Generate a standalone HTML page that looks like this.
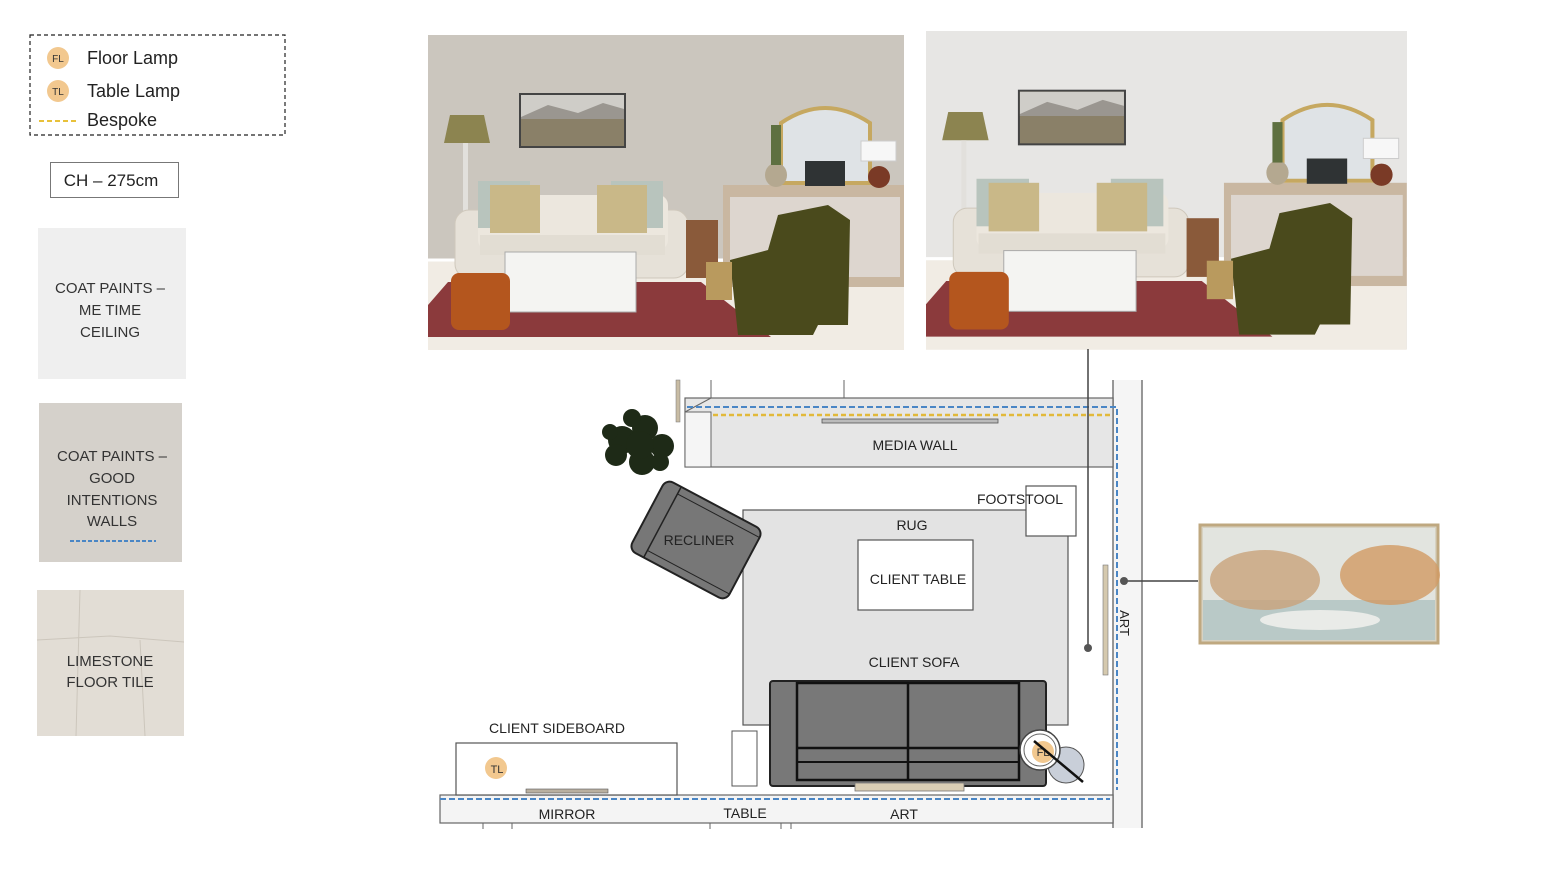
<!DOCTYPE html>
<html><head><meta charset="utf-8"><style>
html,body{margin:0;padding:0;background:#fff;}
svg{display:block;font-family:"Liberation Sans",sans-serif;}
</style></head><body>
<svg width="1556" height="890" viewBox="0 0 1556 890" xmlns="http://www.w3.org/2000/svg">
<defs>
<g id="room">
  <rect x="0" y="225" width="476" height="90" fill="#f1ece4"/>
  <line x1="0" y1="225" x2="476" y2="225" fill="none" stroke="#fff" stroke-width="3"/>
  <rect x="92" y="59" width="105" height="53" fill="#8a8068" stroke="#444" stroke-width="2"/>
  <rect x="93" y="60" width="103" height="22" fill="#cfcdc8"/>
  <path d="M93 82 L120 70 L150 78 L175 68 L196 74 L196 84 L93 84Z" fill="#9a9690"/>
  <polygon points="22,80 56,80 62,108 16,108" fill="#8c8450"/>
  <rect x="35" y="108" width="5" height="130" fill="#e2e0dc"/>
  <rect x="27" y="175" width="233" height="68" rx="14" fill="#e6e1d8" stroke="#cfc8bc"/>
  <rect x="50" y="160" width="190" height="55" rx="10" fill="#ece7de"/>
  <rect x="52" y="200" width="185" height="20" fill="#e2ddd3"/>
  <rect x="50" y="146" width="52" height="47" fill="#b8c4bd"/>
  <rect x="183" y="146" width="52" height="47" fill="#b8c4bd"/>
  <rect x="62" y="150" width="50" height="48" fill="#c9b888"/>
  <rect x="169" y="150" width="50" height="48" fill="#c9b888"/>
  <rect x="258" y="185" width="32" height="58" fill="#8a5a3a"/>
  <polygon points="20,247 273,247 343,302 0,302 0,270" fill="#8b3a3c"/>
  <rect x="77" y="217" width="131" height="60" fill="#f4f4f2" stroke="#aaa"/>
  <rect x="23" y="238" width="59" height="57" rx="8" fill="#b4561e"/>
  <rect x="295" y="150" width="181" height="102" fill="#c9b7a1"/>
  <rect x="302" y="162" width="170" height="80" fill="#ddd6cf"/>
  <path d="M353 148 L353 88 Q397 58 442 88 L442 148Z" fill="#dfe3e6" stroke="#c6a860" stroke-width="4"/>
  <rect x="377" y="126" width="40" height="25" fill="#2f3334"/>
  <ellipse cx="348" cy="140" rx="11" ry="12" fill="#b4a890"/>
  <rect x="343" y="90" width="10" height="40" fill="#5e7040"/>
  <rect x="433" y="106" width="35" height="20" fill="#f7f7f7" stroke="#ccc"/>
  <circle cx="451" cy="142" r="11" fill="#7a3a26"/>
  <path d="M302 225 L340 215 L350 180 L400 170 L422 185 L420 290 L390 290 L385 300 L310 300Z" fill="#4a4a1c"/>
  <rect x="278" y="227" width="26" height="38" fill="#b99a5e"/>
</g>
</defs>

<rect x="30" y="35" width="255" height="100" fill="none" stroke="#222" stroke-width="1.2" stroke-dasharray="4,3"/>
<circle cx="58" cy="58" r="11" fill="#f2c88f"/><text x="58" y="62" font-size="10" text-anchor="middle" fill="#333">FL</text>
<circle cx="58" cy="91" r="11" fill="#f2c88f"/><text x="58" y="95" font-size="10" text-anchor="middle" fill="#333">TL</text>
<line x1="39" y1="121" x2="77" y2="121" stroke="#e8c13a" stroke-width="2" stroke-dasharray="5,3"/>
<text x="87" y="64" font-size="18" fill="#222">Floor Lamp</text>
<text x="87" y="97" font-size="18" fill="#222">Table Lamp</text>
<text x="87" y="126" font-size="18" fill="#222">Bespoke</text>
<rect x="50.5" y="162.5" width="128" height="35" fill="#fff" stroke="#777"/>
<text x="111" y="186" font-size="17" text-anchor="middle" fill="#222">CH – 275cm</text>

<rect x="38" y="228" width="148" height="151" fill="#efefef"/>
<text font-size="15" fill="#333" text-anchor="middle"><tspan x="110" y="293">COAT PAINTS –</tspan><tspan x="110" y="315">ME TIME</tspan><tspan x="110" y="337">CEILING</tspan></text>
<rect x="39" y="403" width="143" height="159" fill="#d5d1cb"/>
<text font-size="15" fill="#333" text-anchor="middle"><tspan x="112" y="461">COAT PAINTS –</tspan><tspan x="112" y="483">GOOD</tspan><tspan x="112" y="505">INTENTIONS</tspan><tspan x="112" y="526">WALLS</tspan></text>
<line x1="70" y1="541" x2="156" y2="541" stroke="#4a86c5" stroke-width="2" stroke-dasharray="4,2"/>
<rect x="37" y="590" width="147" height="146" fill="#e2ddd5"/>
<path d="M37 640 L110 636 L184 642 M80 590 L76 736 M140 640 L145 736" stroke="#ccc6bc" fill="none"/>
<text font-size="15" fill="#333" text-anchor="middle"><tspan x="110" y="666">LIMESTONE</tspan><tspan x="110" y="687">FLOOR TILE</tspan></text>

<rect x="428" y="35" width="476" height="314" fill="#cbc6be"/>
<use href="#room" transform="translate(428,35)"/>
<rect x="926" y="31" width="481" height="318" fill="#e7e6e4"/>
<use href="#room" transform="translate(926,31) scale(1.01,1.012)"/>

<rect x="1113" y="380" width="29" height="448" fill="#f5f5f5"/>
<line x1="1113" y1="380" x2="1113" y2="828" stroke="#777" stroke-width="1.5"/>
<line x1="1142" y1="380" x2="1142" y2="828" stroke="#777" stroke-width="1.5"/>
<rect x="440" y="795" width="673" height="28" fill="#f4f4f4" stroke="#666" stroke-width="1.2"/>
<path d="M483 823 v6 M512 823 v6 M710 823 v6 M781 823 v6 M791 823 v6" stroke="#666"/>
<rect x="685" y="398" width="428" height="69" fill="#e6e6e6" stroke="#666" stroke-width="1.2"/>
<rect x="685" y="412" width="26" height="55" fill="#f5f5f5" stroke="#666"/>
<path d="M685 412 L711 398" stroke="#666"/>
<rect x="676" y="380" width="4" height="42" fill="#c8bca4" stroke="#777" stroke-width="0.5"/>
<line x1="711" y1="380" x2="711" y2="398" stroke="#666"/>
<line x1="844" y1="380" x2="844" y2="398" stroke="#666"/>
<line x1="713" y1="415" x2="1110" y2="415" stroke="#e2b93a" stroke-width="2.5" stroke-dasharray="5,3"/>
<rect x="822" y="419" width="176" height="4" fill="#bbb" stroke="#555" stroke-width="0.8"/>
<path d="M687 407 L1117 407 L1117 790" fill="none" stroke="#4a86c5" stroke-width="2" stroke-dasharray="6,3"/>
<line x1="440" y1="799" x2="1110" y2="799" stroke="#4a86c5" stroke-width="2" stroke-dasharray="6,3"/>
<text x="915" y="450" font-size="14" text-anchor="middle" fill="#222">MEDIA WALL</text>

<g fill="#1e2a17">
<circle cx="622" cy="440" r="14"/><circle cx="645" cy="428" r="13"/><circle cx="662" cy="446" r="12"/>
<circle cx="642" cy="462" r="13"/><circle cx="616" cy="455" r="11"/><circle cx="632" cy="418" r="9"/>
<circle cx="660" cy="462" r="9"/><circle cx="610" cy="432" r="8"/><circle cx="640" cy="445" r="14"/>
</g>

<rect x="743" y="510" width="325" height="215" fill="#e3e3e3" stroke="#555" stroke-width="1.2"/>
<text x="912" y="530" font-size="14" text-anchor="middle" fill="#222">RUG</text>
<rect x="858" y="540" width="115" height="70" fill="#fff" stroke="#555" stroke-width="1.2"/>
<text x="918" y="584" font-size="14" text-anchor="middle" fill="#222">CLIENT TABLE</text>
<rect x="1026" y="486" width="50" height="50" fill="#fff" stroke="#555" stroke-width="1.2"/>
<text x="1020" y="504" font-size="14" text-anchor="middle" fill="#222">FOOTSTOOL</text>
<text x="914" y="667" font-size="14" text-anchor="middle" fill="#222">CLIENT SOFA</text>

<g transform="translate(696,540) rotate(28)">
<rect x="-55" y="-40" width="110" height="80" rx="8" fill="#777" stroke="#222" stroke-width="2"/>
<line x1="-38" y1="-40" x2="-38" y2="40" stroke="#222" stroke-width="1.5"/>
<line x1="-38" y1="-32" x2="55" y2="-32" stroke="#222" stroke-width="1"/>
<line x1="-38" y1="32" x2="55" y2="32" stroke="#222" stroke-width="1"/>
</g>
<text x="699" y="545" font-size="14" text-anchor="middle" fill="#222">RECLINER</text>

<rect x="770" y="681" width="276" height="105" rx="3" fill="#787878" stroke="#222" stroke-width="2"/>
<rect x="797" y="683" width="222" height="97" fill="none" stroke="#111" stroke-width="2.5"/>
<line x1="908" y1="683" x2="908" y2="780" stroke="#111" stroke-width="2.5"/>
<line x1="797" y1="748" x2="1019" y2="748" stroke="#111" stroke-width="2.5"/>
<line x1="797" y1="762" x2="1019" y2="762" stroke="#111" stroke-width="2"/>
<rect x="855" y="783" width="109" height="8" fill="#d9cdb4" stroke="#777" stroke-width="0.8"/>
<rect x="732" y="731" width="25" height="55" fill="#fff" stroke="#555"/>

<circle cx="1066" cy="765" r="18" fill="#c9cfd9" stroke="#555"/>
<circle cx="1040" cy="750" r="20" fill="#fff" stroke="#444" stroke-width="1.5"/>
<circle cx="1040" cy="750" r="16" fill="#fff" stroke="#666"/>
<circle cx="1043" cy="752" r="11" fill="#f2c88f"/>
<text x="1043" y="756" font-size="11" text-anchor="middle" fill="#333">FL</text>
<line x1="1034" y1="741" x2="1083" y2="782" stroke="#111" stroke-width="2.5"/>

<rect x="456" y="743" width="221" height="52" fill="#fff" stroke="#555" stroke-width="1.2"/>
<text x="557" y="733" font-size="14" text-anchor="middle" fill="#222">CLIENT SIDEBOARD</text>
<circle cx="496" cy="768" r="11" fill="#f2c88f"/>
<text x="497" y="773" font-size="11" text-anchor="middle" fill="#333">TL</text>
<rect x="526" y="789" width="82" height="4" fill="#b9b0a0" stroke="#555" stroke-width="0.6"/>
<text x="567" y="819" font-size="14" text-anchor="middle" fill="#222">MIRROR</text>
<text x="745" y="818" font-size="14" text-anchor="middle" fill="#222">TABLE</text>
<text x="904" y="819" font-size="14" text-anchor="middle" fill="#222">ART</text>

<rect x="1103" y="565" width="5" height="110" fill="#d5c9ae" stroke="#777" stroke-width="0.6"/>
<text transform="translate(1120,623) rotate(90)" font-size="13" text-anchor="middle" fill="#222">ART</text>

<line x1="1088" y1="349" x2="1088" y2="648" stroke="#444" stroke-width="1.5"/>
<circle cx="1088" cy="648" r="4" fill="#555"/>
<line x1="1124" y1="581" x2="1198" y2="581" stroke="#444" stroke-width="1.5"/>
<circle cx="1124" cy="581" r="4" fill="#555"/>

<rect x="1200" y="525" width="238" height="118" fill="#d7d2c2" stroke="#bfa880" stroke-width="3"/>
<rect x="1203" y="528" width="232" height="112" fill="#e2e4df"/>
<rect x="1203" y="600" width="232" height="40" fill="#b9c9c7"/>
<ellipse cx="1265" cy="580" rx="55" ry="30" fill="#c9a27a" opacity="0.8"/>
<ellipse cx="1390" cy="575" rx="50" ry="30" fill="#d29a63" opacity="0.8"/>
<ellipse cx="1320" cy="620" rx="60" ry="10" fill="#e9ebe8"/>
</svg>
</body></html>
